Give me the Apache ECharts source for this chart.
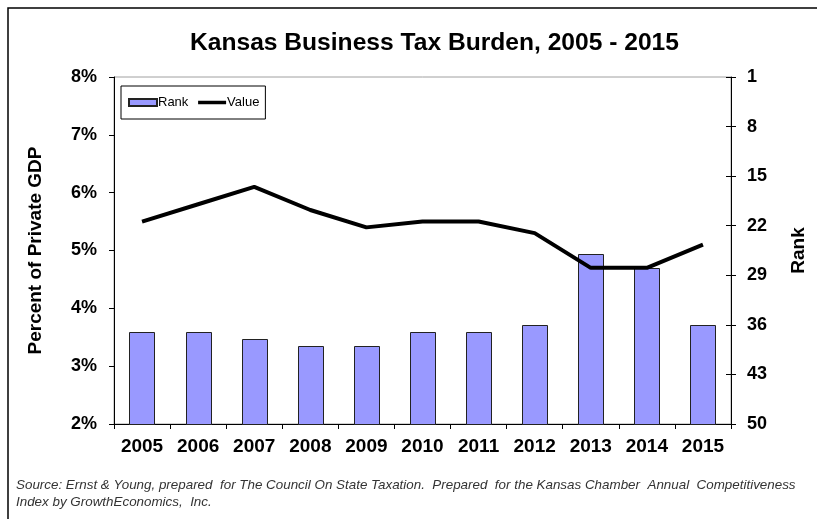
<!DOCTYPE html>
<html>
<head>
<meta charset="utf-8">
<script src="https://cdn.jsdelivr.net/npm/echarts@6/dist/echarts.min.js"></script>
<style>
html,body{margin:0;padding:0;background:#fff;}
#chart{width:817px;height:519px;}
</style>
</head>
<body>
<div id="chart"></div>
<script>
var years = ['2005','2006','2007','2008','2009','2010','2011','2012','2013','2014','2015'];
var rankValues = [37, 37, 38, 39, 39, 37, 37, 36, 26, 28, 36];
var pctValues = [5.5, 5.8, 6.1, 5.7, 5.4, 5.5, 5.5, 5.3, 4.7, 4.7, 5.1];
var pctTicks = {min: 2, max: 8, interval: 1};
var rankTicks = {min: 1, max: 50, interval: 7};

var FONT = '"Liberation Sans", Arial, sans-serif';
var chart = echarts.init(document.getElementById('chart'), null, {renderer: 'canvas'});

var rankData = years.map(function (y, i) { return [y, rankValues[i]]; });

var option = {
  backgroundColor: '#fff',
  animation: false,
  textStyle: {fontFamily: FONT},
  graphic: [{
    type: 'rect',
    shape: {x: 8, y: 8, width: 900, height: 600},
    style: {fill: 'none', stroke: '#000', lineWidth: 1.5},
    silent: true, z: 100
  }],
  title: [{
    text: 'Kansas Business Tax Burden, 2005 - 2015',
    left: 185, top: 26,
    textStyle: {fontFamily: FONT, fontSize: 24.6, fontWeight: 'bold', color: '#000'}
  }, {
    text: 'Source: Ernst & Young, prepared  for The Council On State Taxation.  Prepared  for the Kansas Chamber  Annual  Competitiveness\nIndex by GrowthEconomics,  Inc.',
    left: 11, top: 472,
    textStyle: {fontFamily: FONT, fontSize: 13.4, fontStyle: 'italic', fontWeight: 'normal', color: '#333', lineHeight: 17}
  }],
  legend: {
    left: 121, top: 86,
    orient: 'horizontal',
    backgroundColor: '#fff',
    borderColor: '#000', borderWidth: 1, borderRadius: 0,
    padding: [10, 6, 10, 7],
    itemWidth: 28, itemHeight: 7, itemGap: 8,
    textStyle: {fontFamily: FONT, fontSize: 13, color: '#000', padding: [0, 0, 0, -4]},
    data: [
      {name: 'Rank', icon: 'rect'},
      {name: 'Value', itemStyle: {opacity: 0}, lineStyle: {width: 3.5, color: '#000'}}
    ]
  },
  grid: {
    left: 114, right: 86, top: 77, bottom: 95,
    show: true, borderColor: '#a0a0a0', borderWidth: 1, backgroundColor: 'transparent'
  },
  xAxis: {
    type: 'category', data: years,
    boundaryGap: true,
    axisLine: {lineStyle: {color: '#000', width: 1}},
    axisTick: {show: true, length: 5, lineStyle: {color: '#000'}},
    axisLabel: {fontFamily: FONT, fontSize: 19, fontWeight: 'bold', color: '#000', margin: 13}
  },
  yAxis: [{
    type: 'value', position: 'left',
    min: pctTicks.min, max: pctTicks.max, interval: pctTicks.interval,
    name: 'Percent of Private GDP', nameLocation: 'middle', nameGap: 69, nameRotate: 90,
    nameTextStyle: {fontFamily: FONT, fontSize: 19, fontWeight: 'bold', color: '#000'},
    axisLine: {show: true, lineStyle: {color: '#000', width: 1}},
    axisTick: {show: true, length: 5, lineStyle: {color: '#000'}},
    axisLabel: {fontFamily: FONT, fontSize: 18, fontWeight: 'bold', color: '#000', margin: 17,
      formatter: function (v) { return v + '%'; }},
    splitLine: {show: false}
  }, {
    type: 'value', position: 'right', inverse: true,
    min: rankTicks.min, max: rankTicks.max, interval: rankTicks.interval,
    name: 'Rank', nameLocation: 'middle', nameGap: 58, nameRotate: 90,
    nameTextStyle: {fontFamily: FONT, fontSize: 19, fontWeight: 'bold', color: '#000'},
    axisLine: {show: true, lineStyle: {color: '#000', width: 1}},
    axisTick: {show: true, length: 5, lineStyle: {color: '#000'}},
    axisLabel: {fontFamily: FONT, fontSize: 18, fontWeight: 'bold', color: '#000', margin: 16},
    splitLine: {show: false}
  }, {
    type: 'value', position: 'right', inverse: true,
    min: rankTicks.min, max: rankTicks.max, interval: rankTicks.interval,
    axisLine: {show: false},
    axisTick: {show: true, inside: true, length: 5, lineStyle: {color: '#000'}},
    axisLabel: {show: false},
    splitLine: {show: false}
  }],
  series: [{
    name: 'Rank',
    type: 'custom',
    yAxisIndex: 1,
    encode: {x: 0, y: 1},
    itemStyle: {color: '#9999FF', borderColor: '#222', borderWidth: 1},
    data: rankData,
    z: 2,
    renderItem: function (params, api) {
      var xv = api.value(0);
      var top = api.coord([xv, api.value(1)]);
      var bottom = api.coord([xv, rankTicks.max]);
      var w = api.size([1, 0])[0] * 0.45;
      return {
        type: 'rect',
        shape: {x: Math.round(top[0] - w / 2) + 0.5, y: Math.round(top[1]) + 0.5, width: Math.round(w), height: Math.round(bottom[1] - top[1])},
        style: {fill: '#9999FF', stroke: '#222', lineWidth: 1}
      };
    }
  }, {
    name: 'Value',
    type: 'line',
    yAxisIndex: 0,
    data: pctValues,
    symbol: 'none',
    lineStyle: {color: '#000', width: 4},
    itemStyle: {color: '#000'},
    z: 3
  }]
};
chart.setOption(option);
</script>
</body>
</html>
